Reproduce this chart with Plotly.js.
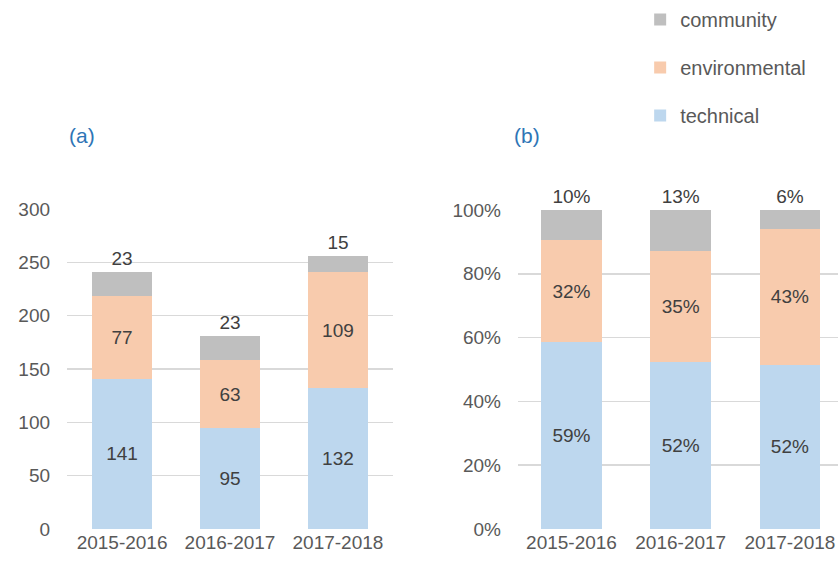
<!DOCTYPE html>
<html><head><meta charset="utf-8">
<script src="https://cdn.plot.ly/plotly-3.0.1.min.js"></script>
<style>html,body{margin:0;padding:0;background:#fff}#c{width:839px;height:568px}
#c text{font-stretch:condensed}</style>
</head><body><div id="c"></div>
<script>
const periods = ["2015-2016", "2016-2017", "2017-2018"];
const technical = [141, 95, 132];
const environmental = [77, 63, 109];
const community = [23, 23, 15];
const technicalPct = [58.51, 52.49, 51.56];
const environmentalPct = [31.95, 34.81, 42.58];
const communityPct = [9.54, 12.69, 5.86];
const leftTicks = [0, 50, 100, 150, 200, 250, 300];
const rightTicks = [0, 20, 40, 60, 80, 100];

const FONT = "Liberation Sans Narrow, Liberation Sans, Arial, sans-serif";
const COLORS = {technical: "#BDD7EE", environmental: "#F8CBAD", community: "#BFBFBF"};
const RANK = {technical: 3, environmental: 2, community: 1};
const labelFont = {family: FONT, size: 19, color: "#404040"};

function bar(name, y, xa, ya, pct, show, outside) {
  return {
    type: "bar", name: name, x: periods, y: y, xaxis: xa, yaxis: ya,
    marker: {color: COLORS[name]}, width: 0.555,
    texttemplate: pct ? "%{y:.0f}%" : "%{y}",
    textposition: outside ? "outside" : "inside",
    insidetextanchor: "middle", textangle: 0, constraintext: "none",
    textfont: labelFont, cliponaxis: false,
    showlegend: show, legendgroup: name, legendrank: RANK[name], hoverinfo: "skip"
  };
}

const data = [
  bar("technical", technical, "x", "y", false, true, false),
  bar("environmental", environmental, "x", "y", false, true, false),
  bar("community", community, "x", "y", false, true, true),
  bar("technical", technicalPct, "x2", "y2", true, false, false),
  bar("environmental", environmentalPct, "x2", "y2", true, false, false),
  bar("community", communityPct, "x2", "y2", true, false, true)
];

const axisX = {
  type: "category", showgrid: false, zeroline: false, showline: false, ticks: "",
  tickfont: {family: FONT, size: 19, color: "#595959"}, fixedrange: true
};
const axisY = {
  showgrid: true, gridcolor: "#D9D9D9", gridwidth: 1.5, zeroline: false, showline: false,
  ticks: "", tickfont: {family: FONT, size: 19, color: "#595959"}, ticklabelstandoff: 16
};

const layout = {
  width: 839, height: 568, barmode: "stack", bargap: 0.445,
  margin: {l: 0, r: 0, t: 209, b: 39},
  paper_bgcolor: "#fff", plot_bgcolor: "#fff",
  font: {family: FONT},
  xaxis: Object.assign({}, axisX, {domain: [0.0799, 0.4684], range: [-0.51, 2.51]}),
  yaxis: Object.assign({}, axisY, {range: [0, 300], tickvals: leftTicks}),
  xaxis2: Object.assign({}, axisX, {domain: [0.6174, 0.9988], range: [-0.49, 2.44], anchor: "y2"}),
  yaxis2: Object.assign({}, axisY, {range: [0, 100.02], tickvals: rightTicks,
    ticktext: rightTicks.map(v => v + "%"), anchor: "x2", domain: [0, 0.997]}),
  legend: {
    x: 0.763, y: 1.0, xref: "paper", yref: "container", xanchor: "left", yanchor: "top",
    traceorder: "grouped", tracegroupgap: 19,
    font: {family: FONT, size: 20, color: "#595959"}, itemwidth: 30
  },
  annotations: [
    {text: "(a)", xref: "paper", x: 0.0799, yref: "paper", y: 1.231, xanchor: "left", yanchor: "middle",
     showarrow: false, font: {family: FONT, size: 21, color: "#2E75B6"}},
    {text: "(b)", xref: "paper", x: 0.6103, yref: "paper", y: 1.231, xanchor: "left", yanchor: "middle",
     showarrow: false, font: {family: FONT, size: 21, color: "#2E75B6"}}
  ]
};

Plotly.newPlot("c", data, layout, {displayModeBar: false, staticPlot: true});
</script></body></html>
